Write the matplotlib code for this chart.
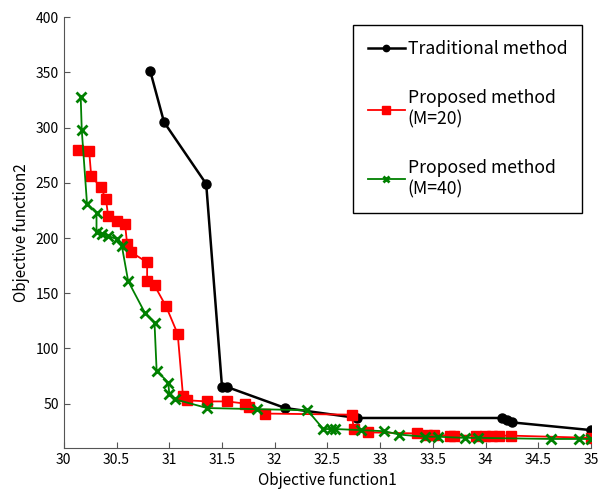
import matplotlib
matplotlib.use("Agg")
import matplotlib.pyplot as plt

plt.rcParams["font.family"] = ["Noto Sans CJK JP", "DejaVu Sans"]

# Traditional method
trad_x = [30.82, 30.95, 31.35, 31.50, 31.55, 32.10, 32.78, 34.15, 34.20, 34.25, 35.00]
trad_y = [351, 305, 249, 65, 65, 46, 37, 37, 35, 33, 26]

# Proposed method (M=20)
m20_x = [30.13, 30.24, 30.26, 30.35, 30.40, 30.42, 30.50, 30.58, 30.60, 30.64,
         30.79, 30.79, 30.86, 30.97, 31.08, 31.13, 31.17, 31.36, 31.55, 31.72,
         31.76, 31.91, 32.73, 32.75, 32.88, 33.35, 33.44, 33.51, 33.66, 33.70,
         33.91, 33.99, 34.06, 34.13, 34.24, 35.00]
m20_y = [280, 279, 256, 246, 235, 220, 215, 213, 195, 187,
         178, 161, 157, 138, 113, 57, 53, 52, 52, 50,
         47, 41, 40, 27, 24, 23, 22, 22, 21, 21,
         21, 21, 21, 21, 21, 19]

# Proposed method (M=40)
m40_x = [30.16, 30.17, 30.22, 30.31, 30.31, 30.36, 30.42, 30.50, 30.55, 30.61,
         30.77, 30.86, 30.88, 30.99, 31.00, 31.05, 31.36, 31.83, 32.31, 32.46,
         32.53, 32.57, 32.82, 33.04, 33.18, 33.42, 33.55, 33.80, 33.93, 34.62,
         34.88, 35.00]
m40_y = [328, 298, 231, 223, 205, 204, 202, 199, 193, 161,
         132, 123, 80, 69, 59, 54, 46, 45, 44, 27,
         27, 27, 26, 25, 22, 20, 20, 19, 19, 18,
         18, 18]

fig = plt.figure(figsize=(6.02, 4.91), dpi=100)
ax = fig.add_axes([0.106, 0.088, 0.876, 0.877])

ax.plot(trad_x, trad_y, "-o", color="black", lw=1.8, ms=6.5, label="Traditional method")
ax.plot(m20_x, m20_y, "-s", color="#ff0000", lw=1.3, ms=7.5, label="Proposed method\n(M=20)")
ax.plot(m40_x, m40_y, "-x", color="#008000", lw=1.3, ms=7, mew=2, label="Proposed method\n(M=40)")

ax.set_xlim(30, 35)
ax.set_ylim(10, 400)
ax.set_xticks([30, 30.5, 31, 31.5, 32, 32.5, 33, 33.5, 34, 34.5, 35])
ax.set_xticklabels(["30", "30.5", "31", "31.5", "32", "32.5", "33", "33.5", "34", "34.5", "35"])
ax.set_yticks([50, 100, 150, 200, 250, 300, 350, 400])
ax.tick_params(direction="in", length=4, labelsize=10, color="#555555")
for s in ["top", "right"]:
    ax.spines[s].set_visible(False)
for s in ["left", "bottom"]:
    ax.spines[s].set_color("#555555")

ax.set_xlabel("Objective function1", fontsize=11)
ax.set_ylabel("Objective function2", fontsize=11)

leg = ax.legend(loc="upper right", bbox_to_anchor=(0.983, 0.981), borderaxespad=0,
                fontsize=12.7, frameon=True, fancybox=False, edgecolor="black",
                handlelength=2.1, handletextpad=0.15, labelspacing=1.75,
                borderpad=0.85, markerscale=0.7, framealpha=1)
leg.get_frame().set_linewidth(1.0)

fig.savefig("out.png", dpi=100)
